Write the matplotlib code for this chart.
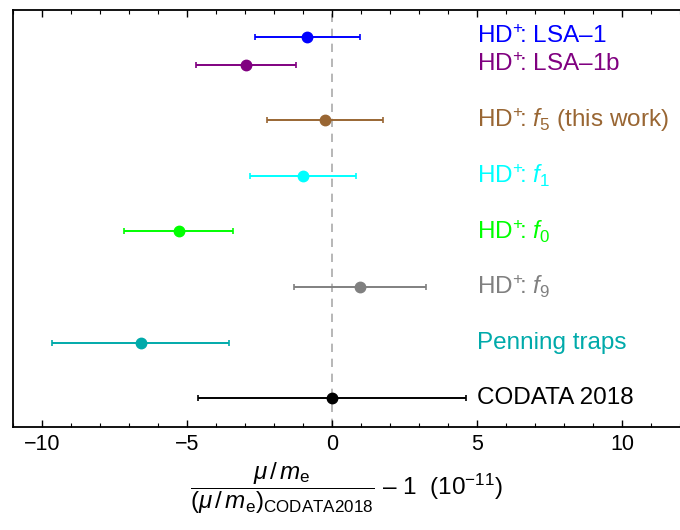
import matplotlib.pyplot as plt
from matplotlib.ticker import MultipleLocator

plt.rcParams['font.family'] = ['Liberation Sans', 'DejaVu Sans']
plt.rcParams['mathtext.fontset'] = 'custom'
plt.rcParams['mathtext.rm'] = 'Liberation Sans'
plt.rcParams['mathtext.it'] = 'Liberation Sans:italic'
plt.rcParams['mathtext.bf'] = 'Liberation Sans:bold'

labels = [r'HD$^{+}\!$: LSA–1', r'HD$^{+}\!$: LSA–1b', r'HD$^{+}\!$: $f_5$ (this work)',
          r'HD$^{+}\!$: $f_1$', r'HD$^{+}\!$: $f_0$', r'HD$^{+}\!$: $f_9$',
          'Penning traps', 'CODATA 2018']
values = [-0.85, -2.97, -0.24, -0.99, -5.28, 0.96, -6.6, 0.0]
errors = [1.8, 1.72, 2.0, 1.82, 1.88, 2.28, 3.05, 4.62]
ypos = [6.5, 6, 5, 4, 3, 2, 1, 0]
colors = ['#0000ff', '#800080', '#996633', '#00ffff', '#00ff00', '#808080',
          '#00aaaa', '#000000']

fig = plt.figure(figsize=(6.8, 5.3), dpi=100)
ax = fig.add_axes([0.019, 0.194, 0.981, 0.787])

ax.axvline(0, color='#aaaaaa', ls=(0, (5, 4)), lw=1.2, zorder=0)

for lab, v, e, y, c in zip(labels, values, errors, ypos, colors):
    ax.errorbar(v, y, xerr=e, fmt='o', color=c, ms=7.5, lw=1.4,
                capsize=2.5, capthick=1.2)
    ax.text(5.0, y, lab, color=c, fontsize=17.5, va='center', ha='left')

ax.set_xlim(-11, 12)
ax.set_ylim(-0.52, 6.98)
ax.set_yticks([])
ax.xaxis.set_major_locator(MultipleLocator(5))
ax.xaxis.set_minor_locator(MultipleLocator(1))
ax.tick_params(axis='x', which='both', direction='in', top=True, labelsize=15.5)
ax.tick_params(axis='x', which='major', length=5, width=1, pad=5)
ax.tick_params(axis='x', which='minor', length=3, width=0.8)
ax.spines['right'].set_visible(False)
for s in ['left', 'top', 'bottom']:
    ax.spines[s].set_linewidth(1.3)

ax.set_xlabel(r'$\dfrac{\mu\,/\,m_\mathrm{e}}{(\mu\,/\,m_\mathrm{e})_\mathrm{CODATA2018}}$ – 1  (10$^{-11}$)',
              fontsize=17.5, labelpad=4)

fig.savefig('out.png', dpi=100)
